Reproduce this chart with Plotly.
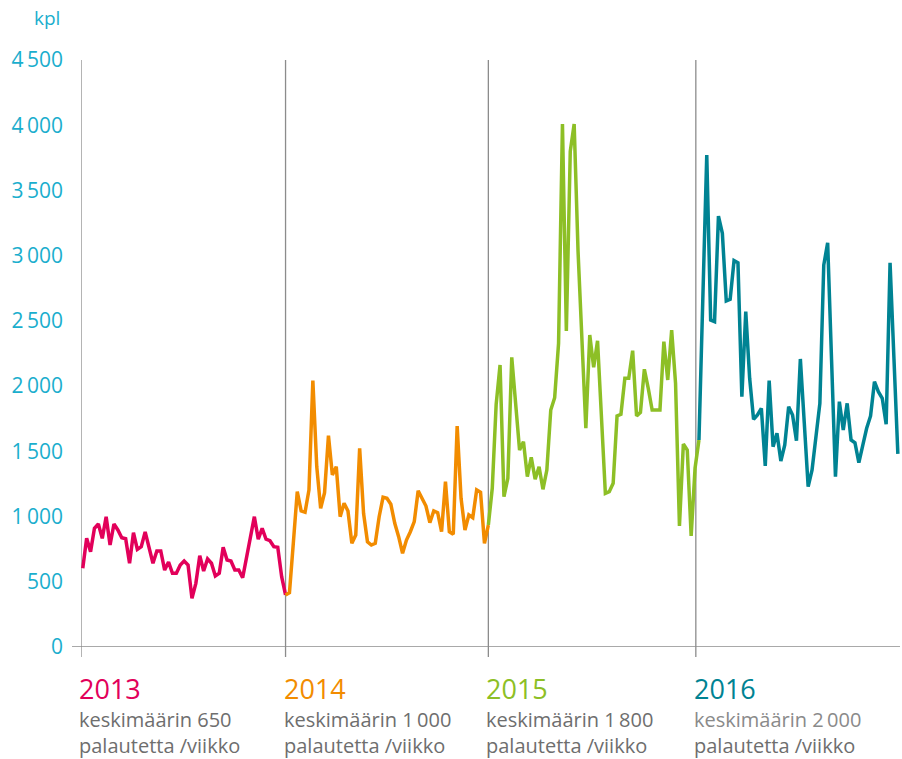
import plotly.graph_objects as go

# ---- data (weekly returned items, kpl) ----
YEARS = ["2013", "2014", "2015", "2016"]
YEAR_START = [0, 52, 104, 158]          # week index of first point of each year
YEAR_BOUNDARY = [-0.45, 52, 104, 157.2]  # position of the year divider lines
COLORS = ["#E2005A", "#F28C00", "#8DBF26", "#008393"]
AVERAGES = ["650", "1\u2009000", "1\u2009800", "2\u2009000"]

v2013 = [603, 833, 731, 910, 943, 833, 999, 782, 943, 897, 838, 830, 642, 876,
         749, 769, 882, 769, 642, 736, 736, 590, 652, 565, 565, 629, 659, 629,
         373, 488, 700, 583, 675, 642, 544, 565, 764, 667, 659, 590, 590, 531,
         692, 864, 999, 826, 910, 826, 815, 769, 764, 539]
v2014 = [399, 416, 800, 1191, 1043, 1033, 1204, 2042, 1382, 1063, 1183, 1620,
         1319, 1382, 999, 1102, 1043, 795, 859, 1523, 1025, 807, 782, 795, 999,
         1148, 1140, 1094, 948, 846, 718, 820, 884, 961, 1198, 1140, 1081, 953,
         1043, 1030, 884, 1267, 884, 864, 1694, 1140, 897, 1012, 991, 1204,
         1186, 795]
v2015 = [935, 1217, 1860, 2162, 1152, 1293, 2221, 1868, 1510, 1574, 1306, 1454,
         1286, 1382, 1209, 1357, 1817, 1911, 2328, 4009, 2423, 3800, 4009, 3031,
         2354, 1677, 2392, 2144, 2348, 1750, 1178, 1191, 1255, 1771, 1784, 2060,
         2060, 2272, 1771, 1799, 2129, 1983, 1817, 1817, 1817, 2341, 2047, 2430,
         2022, 928, 1556, 1510, 851, 1370]
v2016 = [1587, 2680, 3772, 2507, 2494, 3304, 3171, 2653, 2666, 2962, 2946, 1919,
         2571, 2060, 1746, 1779, 1830, 1388, 2042, 1536, 1638, 1426, 1549, 1842,
         1779, 1582, 2208, 1720, 1229, 1357, 1600, 1868, 2928, 3099, 2200, 1306,
         1881, 1664, 1868, 1587, 1566, 1413, 1545, 1677, 1771, 2034, 1957, 1907,
         1707, 2946, 2210, 1480]
SERIES = [v2013, v2014, v2015, v2016]

Y_TICKS = [0, 500, 1000, 1500, 2000, 2500, 3000, 3500, 4000, 4500]
Y_TICKTEXT = ["0", "500", "1\u2009000", "1\u2009500", "2\u2009000", "2\u2009500",
              "3\u2009000", "3\u2009500", "4\u2009000", "4\u2009500"]

FONT = "Open Sans"
CYAN = "#1AAECD"
GRAY = "#6E6E6E"

W, H = 902, 759
ML, MR, MT, MB = 81, 2, 60, 112
PW, PH = W - ML - MR, H - MT - MB

fig = go.Figure()

for i, vals in enumerate(SERIES):
    xs = list(range(YEAR_START[i], YEAR_START[i] + len(vals)))
    ys = list(vals)
    if i + 1 < len(SERIES):  # connect to first point of next year
        xs.append(YEAR_START[i + 1])
        ys.append(SERIES[i + 1][0])
    fig.add_trace(go.Scatter(x=xs, y=ys, mode="lines",
                             line=dict(color=COLORS[i], width=3.5),
                             hoverinfo="skip", showlegend=False))

# divider lines for each year (extend slightly below the axis as ticks)
for b in YEAR_BOUNDARY:
    fig.add_shape(type="line", xref="x", yref="paper", x0=b, x1=b,
                  y0=-10 / PH, y1=1, line=dict(color="#8C8C8C", width=1.3),
                  layer="below")
# horizontal base axis
fig.add_shape(type="line", xref="paper", yref="y", x0=-9 / PW, x1=1,
              y0=0, y1=0, line=dict(color="#8C8C8C", width=1.3), layer="below")

# bottom labels
for i, yr in enumerate(YEARS):
    x0 = YEAR_BOUNDARY[i]
    fig.add_annotation(x=x0, y=(647 - 688) / PH, xref="x", yref="paper", text=yr,
                       showarrow=False, xanchor="left", yanchor="middle",
                       xshift=-3, borderpad=0,
                       font=dict(family=FONT, size=27, color=COLORS[i]))
    sub_color = GRAY if i < 3 else "#8A8A8A"
    fig.add_annotation(
        x=x0, y=(647 - 733) / PH, xref="x", yref="paper",
        text=("<span style='color:%s'>keskimäärin %s</span><br>palautetta /viikko"
              % (sub_color, AVERAGES[i])),
        showarrow=False, xanchor="left", yanchor="middle", align="left",
        xshift=-3, borderpad=0,
        font=dict(family=FONT, size=20, color=GRAY))

# unit label
fig.add_annotation(x=(62 - ML) / PW, y=1 + (MT - 18) / PH, xref="paper", yref="paper",
                   text="kpl", showarrow=False, xanchor="right", yanchor="middle",
                   font=dict(family=FONT, size=19, color=CYAN))

fig.update_layout(
    width=W, height=H,
    margin=dict(l=ML, r=MR, t=MT, b=MB),
    paper_bgcolor="white", plot_bgcolor="white",
    xaxis=dict(range=[-0.45, -0.45 + PW / 3.9], showgrid=False, zeroline=False,
               showline=False, showticklabels=False, ticks="", fixedrange=True),
    yaxis=dict(range=[0, 4500], tickvals=Y_TICKS, ticktext=Y_TICKTEXT,
               showgrid=False, zeroline=False, showline=False, ticks="",
               ticklabelstandoff=17,
               tickfont=dict(family=FONT, size=21, color=CYAN), fixedrange=True),
)

fig.write_html(
    "out.html",
    config={"displayModeBar": False},
    post_script="document.body.style.margin='0';document.body.style.overflow='hidden';",
)
